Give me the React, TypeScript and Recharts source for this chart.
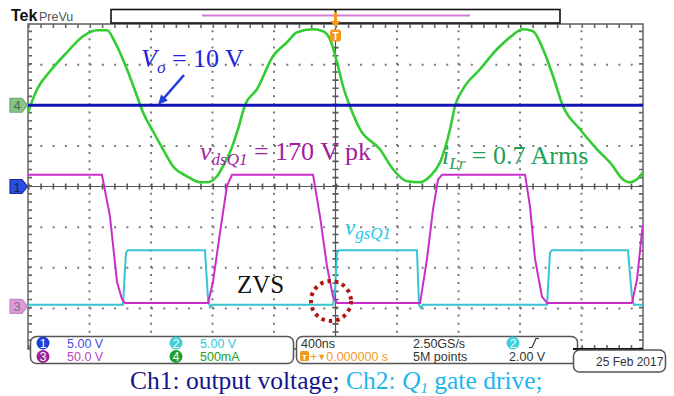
import React from "react";
import { LineChart, Line, XAxis, YAxis, ReferenceArea, ReferenceDot } from "recharts";

// time in ns (trigger at 0, 400 ns/div); graticule in divisions
const timeDivs = [-2000, -1600, -1200, -800, -400, 0, 400, 800, 1200, 1600, 2000];
const levelDivs = [-4, -3, -2, -1, 0, 1, 2, 3, 4];

// Ch1: output voltage (V)
const ch1Vo: [number, number][] = [
  [-2000, 10], [-1000, 10], [0, 10], [1000, 10], [2000, 10],
];

// Ch4: resonant inductor current (mA)
const ch4iLr: [number, number][] = [
  [-2000, -86], [-1941, 197], [-1857, 418], [-1746, 652], [-1642, 849], [-1551, 923],
  [-1486, 923], [-1434, 775], [-1356, 443], [-1291, 111], [-1252, -86], [-1187, -320],
  [-1122, -542], [-1057, -751], [-966, -874], [-881, -948], [-836, -948], [-771, -874],
  [-732, -751], [-686, -579], [-634, -295],
  [-589, 0], [-511, 197], [-407, 603], [-315, 775], [-250, 899], [-146, 935],
  [-81, 911], [-36, 812], [10, 529], [49, 234], [94, -12], [159, -295], [289, -542],
  [374, -788], [465, -936], [550, -948], [615, -874], [680, -702], [745, -295],
  [777, -12], [829, 197], [940, 443], [1050, 689], [1135, 837], [1220, 935],
  [1285, 911], [1350, 689], [1415, 357], [1480, -12], [1590, -295], [1701, -542],
  [1805, -751], [1850, -874], [1915, -948], [1961, -911], [2000, -825],
];

// Ch3: Q1 drain-source voltage (V)
const ch3vds: [number, number][] = [
  [-2000, 162], [-1519, 162], [-1467, 111], [-1421, 30], [-1389, 9], [-1369, 4],
  [-829, 4], [-797, 30], [-751, 91], [-706, 148], [-673, 162],
  [-146, 162], [-101, 111], [-55, 49], [-16, 12], [10, 4],
  [550, 4], [595, 58], [634, 119], [667, 156], [693, 162],
  [1233, 162], [1265, 123], [1298, 58], [1343, 12], [1376, 4],
  [1928, 4], [1961, 33], [1993, 91], [2000, 100],
];

// Ch2: Q1 gate drive (V)
const ch2vgs: [number, number][] = [
  [-2000, 0.2], [-1382, 0.2], [-1363, 6.6], [-1350, 6.9], [-849, 6.9], [-829, 0.9],
  [-816, -0.1], [-803, 0.2], [-16, 0.2], [-3, 2], [10, 6.6], [23, 6.9],
  [530, 6.9], [543, 0.2], [556, -0.2], [569, 0.2], [1376, 0.2], [1395, 6.6],
  [1408, 6.9], [1902, 6.9], [1928, 1.2], [1941, 0.2], [2000, 0.2],
];

// vertical settings: units per division and ground level (divisions)
const ch1Scale = 5;
const ch2Scale = 5;
const ch3Scale = 50;
const ch4Scale = 500;
const ch1Ground = 0;
const ch2Ground = -2.95;
const ch3Ground = -2.95;
const ch4Ground = 2;

const toDivs = (pts: [number, number][], scale: number, ground: number) =>
  pts.map(([t, v]) => ({ t, y: ground + v / scale }));

const tMin = timeDivs[0];
const tMax = timeDivs[timeDivs.length - 1];
const lMin = levelDivs[0];
const lMax = levelDivs[levelDivs.length - 1];
const vLine = (t: number) => [{ t, y: lMin }, { t, y: lMax }];
const hLine = (y: number) => [{ t: tMin, y }, { t: tMax, y }];

const SANS = "'Liberation Sans', Arial, sans-serif";
const SERIF = "'Liberation Serif', 'Times New Roman', serif";

const ChMarker = (props: any) => {
  const { cx, cy, fill, stroke, label, color } = props;
  return (
    <g>
      <path
        d={`M${cx - 18},${cy - 7} H${cx - 6} L${cx - 0.5},${cy} L${cx - 6},${cy + 7} H${cx - 18} Z`}
        fill={fill}
        stroke={stroke}
        strokeWidth={1.2}
        strokeLinejoin="round"
      />
      <text x={cx - 11} y={cy + 5} textAnchor="middle" fontSize={13} fill={color} fontFamily={SANS}>
        {label}
      </text>
    </g>
  );
};

const Badge = ({ x, y, n, fill }: { x: number; y: number; n: string; fill: string }) => (
  <g>
    <circle cx={x} cy={y} r={6.5} fill={fill} />
    <text x={x} y={y + 4.5} textAnchor="middle" fontSize={12} fill="#fff" fontFamily={SANS}>
      {n}
    </text>
  </g>
);

const gridProps = { dataKey: "y", type: "linear" as const, dot: false, activeDot: false, isAnimationActive: false, legendType: "none" as const };

export default function App() {
  const green = toDivs(ch4iLr, ch4Scale, ch4Ground);
  const blue = toDivs(ch1Vo, ch1Scale, ch1Ground);
  const magenta = toDivs(ch3vds, ch3Scale, ch3Ground);
  const cyan = toDivs(ch2vgs, ch2Scale, ch2Ground);

  return (
    <div style={{ position: "absolute", left: 0, top: 0, width: 674, height: 396, background: "#fff" }}>
      <LineChart width={674} height={396} margin={{ top: 24, right: 31, bottom: 47, left: 28 }}>
        <XAxis type="number" dataKey="t" domain={[tMin, tMax]} allowDataOverflow hide />
        <YAxis type="number" domain={[lMin, lMax]} allowDataOverflow hide />

        {/* dotted graticule */}
        {timeDivs
          .filter((t) => t !== 0 && t !== tMin && t !== tMax)
          .map((t) => (
            <Line key={`gx${t}`} {...gridProps} data={vLine(t)} stroke="#7a7a7a" strokeWidth={2} strokeDasharray="2 6.125" />
          ))}
        {levelDivs
          .filter((l) => l !== 0 && l !== lMin && l !== lMax)
          .map((l) => (
            <Line key={`gy${l}`} {...gridProps} data={hLine(l)} stroke="#7a7a7a" strokeWidth={2} strokeDasharray="2 10.3" />
          ))}
        {/* centre axes with minor ticks */}
        <Line {...gridProps} data={hLine(0)} stroke="#555" strokeWidth={1.2} />
        <Line {...gridProps} data={vLine(0)} stroke="#555" strokeWidth={1.2} />
        <Line {...gridProps} data={hLine(0)} stroke="#555" strokeWidth={6} strokeDasharray="1.6 10.7" />
        <Line {...gridProps} data={vLine(0)} stroke="#555" strokeWidth={6} strokeDasharray="1.6 6.525" />
        {/* inner ticks on the frame */}
        <Line {...gridProps} data={hLine(3.95)} stroke="#666" strokeWidth={4} strokeDasharray="1.6 10.7" />
        <Line {...gridProps} data={hLine(-3.95)} stroke="#666" strokeWidth={4} strokeDasharray="1.6 10.7" />
        <Line {...gridProps} data={vLine(-1987)} stroke="#666" strokeWidth={4} strokeDasharray="1.6 6.525" />
        <Line {...gridProps} data={vLine(1987)} stroke="#666" strokeWidth={4} strokeDasharray="1.6 6.525" />
        <ReferenceArea x1={tMin} x2={tMax} y1={lMin} y2={lMax} fill="none" stroke="#5a5a5a" strokeWidth={1.4} />

        <Line data={green} dataKey="y" type="monotone" stroke="#33cc33" strokeWidth={2.6} dot={false} isAnimationActive={false} />
        <Line data={cyan} dataKey="y" type="linear" stroke="#36c6d2" strokeWidth={2} dot={false} isAnimationActive={false} />
        <Line data={magenta} dataKey="y" type="linear" stroke="#cc2ccc" strokeWidth={2} dot={false} isAnimationActive={false} />
        <Line data={blue} dataKey="y" type="linear" stroke="#1414b4" strokeWidth={3.2} dot={false} isAnimationActive={false} />

        <ReferenceDot x={tMin} y={ch4Ground} r={0} shape={(p: any) => <ChMarker {...p} fill="#86c486" stroke="#6aa86a" label="4" color="#4a6a4a" />} />
        <ReferenceDot x={tMin} y={ch1Ground} r={0} shape={(p: any) => <ChMarker {...p} fill="#2a4fe0" stroke="#1a2a90" label="1" color="#15205a" />} />
        <ReferenceDot x={tMin} y={ch3Ground} r={0} shape={(p: any) => <ChMarker {...p} fill="#dc9ad6" stroke="#c48ac0" label="3" color="#8a6a8a" />} />
      </LineChart>

      <svg width={674} height={396} style={{ position: "absolute", left: 0, top: 0, pointerEvents: "none" }}>
        {/* header */}
        <text x={11} y={21} fontFamily={SANS} fontWeight="bold" fontSize={16} fill="#111">Tek</text>
        <text x={39} y={21} fontFamily={SANS} fontSize={12.5} fill="#555">PreVu</text>
        <rect x={111} y={9.5} width={449} height={13.5} fill="#fff" stroke="#111" strokeWidth={1.6} />
        <line x1={202} x2={470} y1={15.5} y2={15.5} stroke="#d67ad6" strokeWidth={2} />
        <line x1={335.5} x2={335.5} y1={9} y2={23} stroke="#222" strokeWidth={2} />
        <line x1={335.5} x2={335.5} y1={12} y2={22} stroke="#f39a1e" strokeWidth={3} />
        <path d="M330.5,21 H340.5 L335.5,27.5 Z" fill="#f39a1e" />
        <rect x={330} y={29.5} width={11} height={12} rx={2.5} fill="#f39a1e" />
        <text x={335.5} y={39.5} textAnchor="middle" fontFamily={SANS} fontWeight="bold" fontSize={10} fill="#fff">T</text>

        {/* annotations */}
        <text x={141} y={67} fontFamily={SERIF} fontSize={26} fill="#2323e0">
          <tspan fontStyle="italic">V</tspan>
          <tspan fontStyle="italic" fontSize={17} dy={6}>o</tspan>
          <tspan dy={-6}> = 10 V</tspan>
        </text>
        <line x1={184} y1={75} x2={164} y2={98} stroke="#1f3fd8" strokeWidth={2.6} />
        <polygon points="158,105 167.9,100.4 161.1,94.5" fill="#1f3fd8" />

        <text x={200} y={160} fontFamily={SERIF} fontSize={26} fill="#a01ea0">
          <tspan fontStyle="italic">v</tspan>
          <tspan fontStyle="italic" fontSize={17} dy={5}>dsQ1</tspan>
          <tspan dy={-5}> = 170 V pk</tspan>
        </text>
        <text x={442} y={164} fontFamily={SERIF} fontSize={26} fill="#1fa05a">
          <tspan fontStyle="italic">i</tspan>
          <tspan fontStyle="italic" fontSize={17} dy={5}>Lr</tspan>
          <tspan dy={-5}> = 0.7 Arms</tspan>
        </text>
        <text x={345} y={235} fontFamily={SERIF} fontSize={23} fill="#22c8ee">
          <tspan fontStyle="italic">v</tspan>
          <tspan fontStyle="italic" fontSize={17} dy={4}>gsQ1</tspan>
        </text>
        <text x={237} y={293} fontFamily={SERIF} fontSize={25} fill="#111">ZVS</text>
        <circle cx={331} cy={301} r={20} fill="none" stroke="#b01818" strokeWidth={4} strokeDasharray="3.5 4" />

        {/* readout boxes */}
        <rect x={30.5} y={336.5} width={263} height={27} rx={6} fill="#fff" stroke="#555" strokeWidth={1.5} />
        <rect x={296.5} y={336.5} width={281} height={27} rx={6} fill="#fff" stroke="#555" strokeWidth={1.5} />
        <line x1={573} x2={643} y1={349} y2={349} stroke="#111" strokeWidth={2} />
        <rect x={573.5} y={350} width={92} height={22} rx={6} fill="#fff" stroke="#555" strokeWidth={1.5} />

        <Badge x={43} y={343} n="1" fill="#1f3fd8" />
        <text x={67} y={347.5} fontFamily={SANS} fontSize={12.5} fill="#4a4ae8">5.00 V</text>
        <Badge x={176} y={343} n="2" fill="#3fd0dc" />
        <text x={200} y={347.5} fontFamily={SANS} fontSize={12.5} fill="#2ec8d8">5.00 V</text>
        <Badge x={43} y={356.5} n="3" fill="#a0229a" />
        <text x={67} y={361} fontFamily={SANS} fontSize={12.5} fill="#c040c0">50.0 V</text>
        <Badge x={176} y={356.5} n="4" fill="#1f9f2f" />
        <text x={200} y={361} fontFamily={SANS} fontSize={12.5} fill="#22a022">500mA</text>

        <text x={301} y={347.5} fontFamily={SANS} fontSize={12.5} fill="#333">400ns</text>
        <text x={413} y={347.5} fontFamily={SANS} fontSize={12.5} fill="#333">2.50GS/s</text>
        <Badge x={513} y={343} n="2" fill="#3fd0dc" />
        <path d="M529,347.5 H532 L536,338.5 H539" fill="none" stroke="#333" strokeWidth={1.2} />
        <rect x={300} y={351} width={9} height={10} rx={1.5} fill="#f39a1e" />
        <text x={304.5} y={359.5} textAnchor="middle" fontFamily={SANS} fontWeight="bold" fontSize={8} fill="#fff">T</text>
        <text x={310} y={361} fontFamily={SANS} fontSize={12.5} fill="#f39a1e">
          +<tspan fontSize={9} dy={-1}>▼</tspan><tspan dy={1}>0.000000 s</tspan>
        </text>
        <text x={413} y={361} fontFamily={SANS} fontSize={12.5} fill="#333">5M points</text>
        <text x={509} y={361} fontFamily={SANS} fontSize={12.5} fill="#333">2.00 V</text>

        <text x={596} y={366} fontFamily={SANS} fontSize={12} fill="#333">25 Feb  2017</text>

        {/* caption */}
        <text x={130} y={389} fontFamily={SERIF} fontSize={25.5}>
          <tspan fill="#14148c">Ch1: output voltage; </tspan>
          <tspan fill="#1eb4ec">Ch2: </tspan>
          <tspan fill="#1eb4ec" fontStyle="italic">Q</tspan>
          <tspan fill="#1eb4ec" fontStyle="italic" fontSize={15} dy={4}>1</tspan>
          <tspan fill="#1eb4ec" dy={-4}> gate drive;</tspan>
        </text>
      </svg>
    </div>
  );
}
